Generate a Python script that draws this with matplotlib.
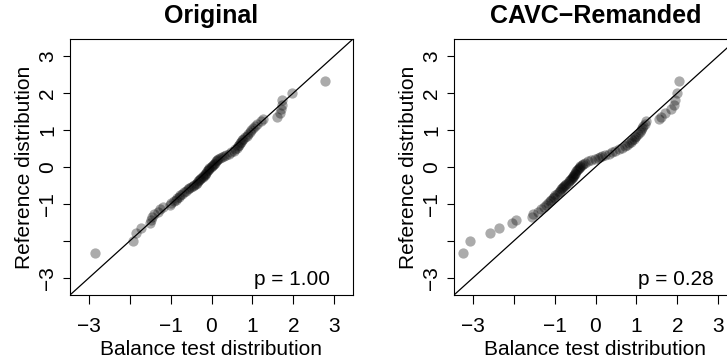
import matplotlib
matplotlib.use("Agg")
import matplotlib.pyplot as plt

plt.rcParams['font.family'] = ['Liberation Sans', 'DejaVu Sans']

titles = ["Original", "CAVC\u2212Remanded"]
p_labels = ["p = 1.00", "p = 0.28"]
xlabel = "Balance test distribution"
ylabel = "Reference distribution"
tick_values = [-3, -2, -1, 0, 1, 2, 3]
tick_labels = ["\u22123", "", "\u22121", "0", "1", "2", "3"]

# Reference distribution quantiles (shared, y axis)
ref_y = [-2.32, -1.99, -1.79, -1.65, -1.51, -1.42, -1.34, -1.28, -1.21, -1.14,
         -1.08, -1.02, -0.97, -0.92, -0.88, -0.84, -0.80, -0.76,
         -0.72, -0.68, -0.64, -0.60, -0.57, -0.54, -0.51, -0.48, -0.45, -0.42,
         -0.39, -0.36, -0.33, -0.30, -0.27, -0.24, -0.21, -0.18, -0.15, -0.12,
         -0.09, -0.06, -0.03,
         0.00, 0.03, 0.06, 0.09, 0.12, 0.15, 0.18, 0.21, 0.24, 0.27, 0.30, 0.33, 0.36,
         0.40, 0.44, 0.48, 0.52, 0.56, 0.60, 0.64, 0.68, 0.72, 0.76, 0.80,
         0.85, 0.90, 0.95, 1.00, 1.05, 1.10,
         1.16, 1.23, 1.30, 1.36, 1.46, 1.58, 1.68, 1.80, 2.00, 2.33]

# Balance test quantiles, Original
orig_x = [-2.84, -1.92, -1.85, -1.72, -1.50, -1.48, -1.45, -1.40, -1.32, -1.25,
          -1.18, -1.02, -0.98, -0.92, -0.88, -0.84, -0.80, -0.76,
          -0.72, -0.67, -0.63, -0.58, -0.55, -0.50, -0.46, -0.42, -0.39, -0.36,
          -0.33, -0.30, -0.28, -0.25, -0.22, -0.20, -0.17, -0.15, -0.13, -0.11,
          -0.09, -0.07, -0.05,
          -0.02, 0.00, 0.03, 0.06, 0.08, 0.10, 0.13, 0.17, 0.21, 0.26, 0.31, 0.36, 0.42,
          0.48, 0.54, 0.58, 0.62, 0.65, 0.67, 0.69, 0.72, 0.75, 0.78, 0.82,
          0.86, 0.90, 0.94, 0.97, 1.02, 1.06,
          1.12, 1.20, 1.25, 1.60, 1.68, 1.70, 1.72, 1.72, 1.97, 2.78]

# Balance test quantiles, CAVC-Remanded
cavc_x = [-3.25, -3.07, -2.57, -2.35, -2.04, -1.94, -1.56, -1.52, -1.40, -1.33,
          -1.27, -1.22, -1.16, -1.12, -1.09, -1.05, -1.01, -0.98,
          -0.94, -0.90, -0.87, -0.84, -0.82, -0.80, -0.78, -0.75, -0.72, -0.68,
          -0.65, -0.62, -0.60, -0.58, -0.56, -0.54, -0.52, -0.50, -0.49, -0.47,
          -0.46, -0.43, -0.41,
          -0.39, -0.37, -0.34, -0.30, -0.25, -0.18, -0.10, -0.02, 0.05, 0.10, 0.16, 0.24, 0.32,
          0.40, 0.48, 0.57, 0.65, 0.72, 0.78, 0.83, 0.86, 0.89, 0.93, 0.97,
          1.00, 1.04, 1.08, 1.11, 1.14, 1.17,
          1.20, 1.23, 1.55, 1.60, 1.70, 1.85, 1.92, 1.95, 2.00, 2.05]

W, H = 727, 362
fig = plt.figure(figsize=(W / 100, H / 100), dpi=100)

positions = [
    [70 / W, (H - 295) / H, 283 / W, 256 / H],
    [454 / W, (H - 295) / H, 283 / W, 256 / H],
]
series = [orig_x, cavc_x]
lim = (-3.46, 3.46)
fs = 15

for pos, xs, title, ptxt in zip(positions, series, titles, p_labels):
    ax = fig.add_axes(pos)
    ax.set_xlim(lim)
    ax.set_ylim(lim)
    ax.plot(xs, ref_y, 'o', ms=7.4, color='black', alpha=0.33, mec='none', zorder=2)
    ax.axline((0, 0), slope=1, color='black', lw=0.9, zorder=3)
    ax.set_xticks(tick_values)
    ax.set_xticklabels(tick_labels)
    ax.set_yticks(tick_values)
    ax.set_yticklabels(tick_labels, rotation=90, va='center')
    ax.tick_params(axis='both', direction='out', width=0.8,
                   labelsize=fs, color='black')
    ax.tick_params(axis='x', length=6.5, pad=9.5)
    ax.tick_params(axis='y', length=5.0, pad=4.2)
    for s in ax.spines.values():
        s.set_linewidth(0.8)
    ax.set_xlabel(xlabel, fontsize=fs, labelpad=2.5)
    ax.set_ylabel(ylabel, fontsize=fs, labelpad=3)
    ax.set_title(title, fontsize=18, fontweight='bold', pad=11.5)
    ax.text(2.9, -3.18, ptxt, ha='right', va='baseline', fontsize=fs)

fig.savefig("out.png", dpi=100)
